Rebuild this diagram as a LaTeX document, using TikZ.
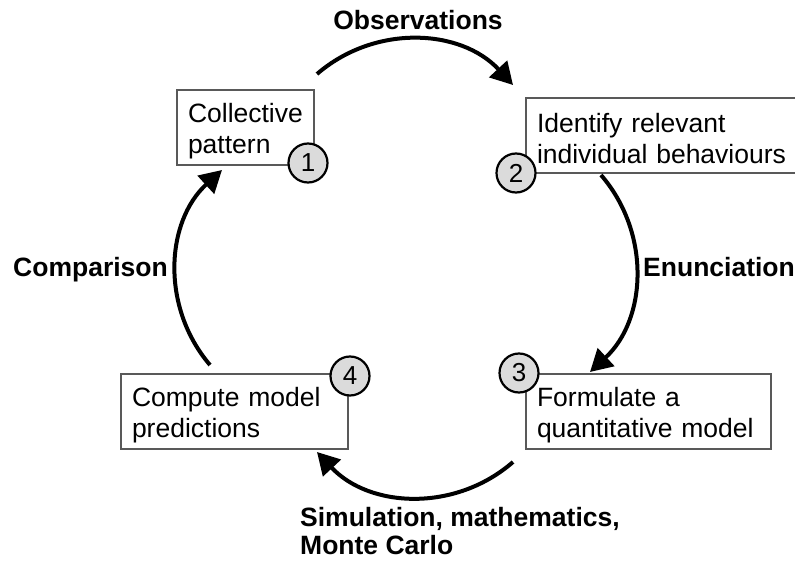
\documentclass[tikz,border=0pt]{standalone}
\usepackage{fontspec}
\setmainfont{Liberation Sans}
\usetikzlibrary{positioning,arrows.meta}
\hyphenpenalty=10000

\begin{document}
\begin{tikzpicture}[x=1pt,y=1pt,>={Triangle[length=22pt,width=24pt]},
  box/.style={draw=black!65,line width=1.2pt,minimum height=75pt,inner xsep=11pt,
    text height=26pt,align=left,font=\fontsize{26.5}{31}\selectfont},
  num/.style={circle,draw,line width=2.2pt,fill=black!14,minimum size=39pt,
    inner sep=0pt,font=\fontsize{26}{28}\selectfont},
  flow/.style={line width=4pt},
  lbl/.style={inner sep=0pt,font=\fontsize{26.5}{28}\selectfont\bfseries}]
  \useasboundingbox (0,0) rectangle (795,563);
  % the four steps
  \node[box,text width=115pt] (pattern) at (245.5,435.5) {Collective\\pattern};
  \node[box,text width=252pt] (behav) at (663,427.5) {Identify relevant\\individual behaviours};
  \node[box,text width=223pt] (model) at (648.5,151.5) {Formulate a\\quantitative model};
  \node[box,text width=205pt] (predict) at (234.5,151.5) {Compute model\\predictions};
  \node[num] (n1) at (308,400) {1};
  \node[num] (n2) at (516,390) {2};
  \node[num] (n3) at (519,190) {3};
  \node[num] (n4) at (350,187) {4};
  % ends of the arrows
  \coordinate (obs-a) at (317,489);
  \coordinate (obs-b) at (513,478);
  \coordinate (enu-a) at (601,388);
  \coordinate (enu-b) at (590,191);
  \coordinate (sim-a) at (513,101);
  \coordinate (sim-b) at (317,111);
  \coordinate (cmp-a) at (210,198);
  \coordinate (cmp-b) at (222,393);
  \path[->,flow]
    (obs-a) edge[bend left=44] (obs-b)
    (enu-a) edge[bend left=44] (enu-b)
    (sim-a) edge[bend left=44] (sim-b)
    (cmp-a) edge[bend left=44] (cmp-b);
  % what each arrow stands for
  \node[lbl,anchor=base] (obs) at (418,533) {Observations};
  \node[lbl,anchor=base west] (enu) at (643,287) {Enunciation};
  \node[lbl,anchor=base west,align=left] (sim) at (300,9) {Simulation, mathematics,\\Monte Carlo};
  \node[lbl,anchor=base east] (cmp) at (168,287) {Comparison};
\end{tikzpicture}
\end{document}
